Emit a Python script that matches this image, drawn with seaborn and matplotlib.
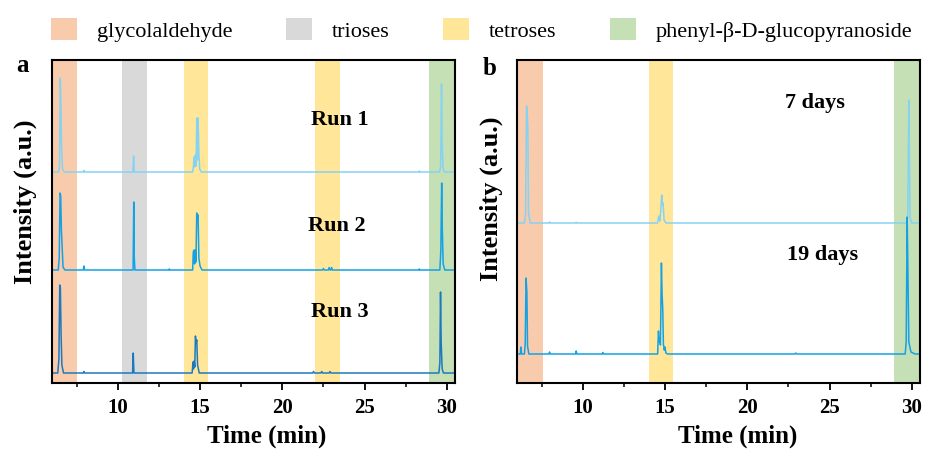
import matplotlib
matplotlib.use("Agg")
import matplotlib.pyplot as plt
from matplotlib.patches import Patch
from matplotlib.ticker import MultipleLocator
import seaborn as sns
import pandas as pd

# ---------------- data ----------------
band_names = ["glycolaldehyde", "trioses", "tetroses", "phenyl-\u03b2-D-glucopyranoside"]
band_colors = ["#F8CBAD", "#D9D9D9", "#FFE699", "#C5E0B4"]

# shaded retention windows (start, end, band index)
bands_a = [(6.0, 7.5, 0), (10.25, 11.75, 1), (14.0, 15.5, 2), (22.0, 23.5, 2), (28.9, 30.5, 3)]
bands_b = [(6.0, 7.6, 0), (14.0, 15.5, 2), (28.9, 30.5, 3)]

# chromatogram traces: (time [min], intensity [a.u.])
run1 = [(6.0, 0), (6.4, 0), (6.46, 5), (6.5, 94), (6.54, 72), (6.58, 25), (6.64, 3), (6.75, 0),
        (7.92, 0), (7.95, 1.5), (7.98, 0),
        (10.92, 0), (10.96, 16), (11.0, 0),
        (14.55, 0), (14.6, 6), (14.64, 15), (14.68, 5), (14.72, 17), (14.76, 6), (14.8, 54),
        (14.84, 12), (14.88, 54), (14.93, 18), (14.98, 3), (15.08, 0),
        (28.3, 0), (28.33, 1), (28.36, 0),
        (29.56, 0), (29.63, 6), (29.68, 88), (29.72, 30), (29.77, 4), (29.86, 0), (30.5, 0)]
run2 = [(6.0, 0), (6.38, 0), (6.44, 12), (6.49, 77), (6.53, 74), (6.57, 40), (6.62, 22), (6.67, 3), (6.78, 0),
        (7.9, 0), (7.94, 4), (7.98, 0),
        (10.93, 0), (10.97, 68), (11.0, 13), (11.04, 0),
        (13.1, 0), (13.13, 1), (13.16, 0),
        (14.55, 0), (14.59, 18), (14.63, 20), (14.67, 6), (14.71, 20), (14.75, 8), (14.8, 57),
        (14.84, 52), (14.88, 55), (14.93, 12), (15.0, 4), (15.12, 0),
        (22.45, 0), (22.5, 1.5), (22.55, 0), (22.8, 0), (22.85, 2.5), (22.9, 0), (22.95, 0), (23.0, 2.5), (23.05, 0),
        (28.3, 0), (28.33, 1), (28.36, 0),
        (29.58, 0), (29.64, 20), (29.69, 87), (29.73, 40), (29.78, 6), (29.88, 0), (30.5, 0)]
run3 = [(6.0, 0), (6.35, 0), (6.42, 14), (6.47, 88), (6.51, 85), (6.55, 40), (6.6, 8), (6.7, 0),
        (7.9, 0), (7.94, 1.5), (7.98, 0),
        (10.9, 0), (10.94, 20), (10.98, 0),
        (14.52, 0), (14.57, 11), (14.6, 4), (14.64, 12), (14.68, 6), (14.72, 37), (14.76, 30),
        (14.8, 33), (14.85, 8), (14.95, 0),
        (21.85, 0), (21.9, 1.5), (21.95, 0), (22.35, 0), (22.4, 1.5), (22.45, 0), (22.85, 0), (22.9, 1.5), (22.95, 0),
        (29.52, 0), (29.58, 10), (29.62, 81), (29.66, 30), (29.72, 4), (29.8, 0), (30.5, 0)]
days7 = [(6.0, 0), (6.45, 0), (6.52, 8), (6.58, 117), (6.62, 110), (6.66, 95), (6.7, 10), (6.8, 0),
         (7.94, 0), (7.98, 1), (8.02, 0),
         (9.56, 0), (9.6, 0.7), (9.64, 0),
         (14.55, 0), (14.6, 6), (14.64, 7), (14.68, 2), (14.74, 12), (14.8, 28), (14.84, 18),
         (14.88, 20), (14.94, 3), (15.05, 0),
         (29.7, 0), (29.76, 10), (29.82, 123), (29.86, 60), (29.9, 5), (30.0, 0), (30.5, 0)]
days19 = [(6.0, 0), (6.2, 0), (6.24, 7), (6.28, 0), (6.45, 0), (6.5, 10), (6.55, 76), (6.6, 62), (6.64, 8), (6.72, 0),
          (7.94, 0), (7.98, 2), (8.02, 0),
          (9.56, 0), (9.6, 3), (9.64, 0),
          (11.18, 0), (11.22, 1.5), (11.26, 0),
          (14.55, 0), (14.6, 23), (14.64, 12), (14.68, 16), (14.72, 9), (14.78, 91), (14.82, 60),
          (14.86, 45), (14.9, 10), (14.95, 4), (15.0, 7), (15.05, 1), (15.15, 0),
          (22.9, 0), (22.95, 1), (23.0, 0),
          (29.6, 0), (29.66, 12), (29.72, 137), (29.76, 90), (29.82, 12), (29.95, 2), (30.2, 0), (30.5, 0)]

traces_a = {"Run 1": run1, "Run 2": run2, "Run 3": run3}
offsets_a = {"Run 1": 211, "Run 2": 113, "Run 3": 10}
colors_a = {"Run 1": "#86D2F2", "Run 2": "#14A2E6", "Run 3": "#1C79C0"}
label_pos_a = {"Run 1": (23.5, 263), "Run 2": (23.3, 157), "Run 3": (23.5, 71)}

traces_b = {"7 days": days7, "19 days": days19}
offsets_b = {"7 days": 160, "19 days": 29}
colors_b = {"7 days": "#86D2F2", "19 days": "#14A2E6"}
label_pos_b = {"7 days": (24.1, 280), "19 days": (24.6, 128)}

# ---------------- style ----------------
sns.set_style("white")
plt.rcParams["font.family"] = ["Liberation Serif", "DejaVu Serif"]
plt.rcParams["text.color"] = "black"
plt.rcParams["axes.labelcolor"] = "black"
plt.rcParams["xtick.color"] = "black"
plt.rcParams["ytick.color"] = "black"

fig = plt.figure(figsize=(9.28, 4.49), dpi=100)
ax_a = fig.add_axes([52 / 928, 66 / 449, 403 / 928, 323 / 449])
ax_b = fig.add_axes([517 / 928, 66 / 449, 403 / 928, 323 / 449])


def to_frame(traces, offsets):
    rows = []
    for name, pts in traces.items():
        for t, v in pts:
            rows.append({"trace": name, "time": t, "signal": v + offsets[name]})
    return pd.DataFrame(rows)


def draw_panel(ax, bands, traces, offsets, colors, label_pos):
    for x0, x1, k in bands:
        ax.axvspan(x0, x1, color=band_colors[k], lw=0, zorder=0)
    df = to_frame(traces, offsets)
    sns.lineplot(data=df, x="time", y="signal", hue="trace", palette=colors,
                 estimator=None, sort=False, legend=False, linewidth=1.1, ax=ax, zorder=2)
    for name, (tx, ty) in label_pos.items():
        ax.text(tx, ty, name, fontsize=16, fontweight="bold", ha="center", va="center", color="black")
    ax.set_xlim(6, 30.5)
    ax.set_ylim(0, 323)
    ax.set_yticks([])
    ax.xaxis.set_major_locator(MultipleLocator(5))
    ax.xaxis.set_minor_locator(MultipleLocator(2.5))
    ax.tick_params(axis="x", which="major", direction="out", length=5, width=1.3,
                   labelsize=15, pad=6, bottom=True, colors="black")
    ax.tick_params(axis="x", which="minor", direction="out", length=3, width=1.1, bottom=True)
    for lab in ax.get_xticklabels():
        lab.set_fontweight("bold")
    for sp in ax.spines.values():
        sp.set_linewidth(1.5)
        sp.set_color("black")
    ax.set_xlabel("Time (min)", fontsize=18, fontweight="bold", color="black")
    ax.set_ylabel("Intensity (a.u.)", fontsize=19, fontweight="bold", color="black")
    ax.grid(False)


draw_panel(ax_a, bands_a, traces_a, offsets_a, colors_a, label_pos_a)
draw_panel(ax_b, bands_b, traces_b, offsets_b, colors_b, label_pos_b)
ax_a.yaxis.set_label_coords(-0.037, 0.56)
ax_b.yaxis.set_label_coords(-0.035, 0.57)
ax_a.xaxis.set_label_coords(0.533, -0.13)
ax_b.xaxis.set_label_coords(0.547, -0.13)

fig.text(23 / 928, 1 - 66 / 449, "a", fontsize=18, fontweight="bold", ha="center", va="center")
fig.text(490 / 928, 1 - 69 / 449, "b", fontsize=18, fontweight="bold", ha="center", va="center")

handles = [Patch(facecolor=c, edgecolor="none") for c in band_colors]
fig.legend(handles, band_names, loc="center", bbox_to_anchor=(0.519, 1 - 30 / 449), ncol=4,
           frameon=False, fontsize=16, handlelength=1.17, handleheight=1.08,
           handletextpad=0.9, columnspacing=2.4, borderpad=0, borderaxespad=0)

fig.savefig("out.png", dpi=100)
